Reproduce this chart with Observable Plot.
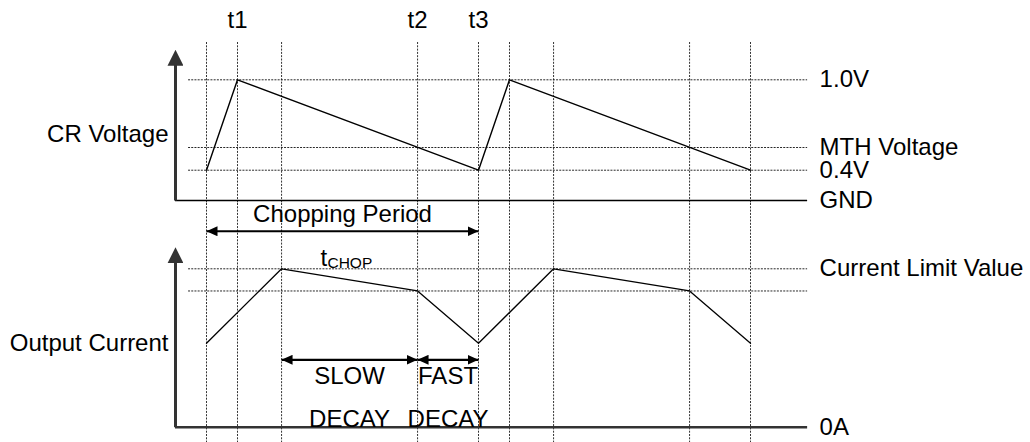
<!DOCTYPE html>
<html>
<head>
<meta charset="utf-8">
<script src="https://cdn.jsdelivr.net/npm/d3@7"></script>
<script src="https://cdn.jsdelivr.net/npm/@observablehq/plot@0.6"></script>
<style>
  html, body { margin: 0; padding: 0; background: #fff; }
  #chart svg { display: block; overflow: visible; }
</style>
</head>
<body>
<div id="chart"></div>
<script>
// ---------- data (time in chopping periods) ----------
const eventTimes = [0, 0.114, 0.276, 0.776, 1, 1.114, 1.276, 1.776, 2];
const tickTimes = [0.114, 0.776, 1];
const tickLabels = ["t1", "t2", "t3"];

// CR voltage waveform (V)
const crTimes = [0, 0.114, 1, 1.114, 2];
const crVolts = [0.4, 1.0, 0.4, 1.0, 0.4];
const vLevels = [1.0, 0.55, 0.4, 0];
const vLabels = ["1.0V", "MTH Voltage", "0.4V", "GND"];

// Output current waveform (relative to current limit)
const curTimes = [0, 0.276, 0.776, 1, 1.276, 1.776, 2];
const curValues = [0.53, 1.0, 0.86, 0.53, 1.0, 0.86, 0.53];
const iLevels = [1.0, 0.86, 0];
const iLabels = ["Current Limit Value", "", "0A"];

// decay phases
const phaseStart = [0.276, 0.776];
const phaseEnd = [0.776, 1];
const phaseWord1 = ["SLOW", "FAST"];
const phaseWord2 = ["DECAY", "DECAY"];

// ---------- layout helpers ----------
const W = 1030, H1 = 203, H2 = 239;
const tAxis = -0.114, tLeft = -0.066, tRight = 2.21;
const xScale = {axis: null, domain: [0, 2], range: [206, 750]};
const FONT = "'Liberation Sans', Arial, Helvetica, sans-serif";
const FS = 24;
// schematic (non-proportional) voltage axis: volts -> drawing level
const voltToLevel = d3.scaleLinear().domain([0, 0.4, 0.55, 1.0]).range([0, 0.251, 0.439, 1]);

function triMarker(len, wid, over = 0) {
  return (color) => {
    const m = d3.create("svg:marker")
      .attr("viewBox", `0 ${-wid / 2} ${len} ${wid}`)
      .attr("refX", len - over).attr("refY", 0)
      .attr("markerWidth", len).attr("markerHeight", wid)
      .attr("markerUnits", "userSpaceOnUse")
      .attr("orient", "auto-start-reverse");
    m.append("path").attr("d", `M0,${-wid / 2}L${len},0L0,${wid / 2}Z`)
      .attr("fill", color).attr("stroke", "none");
    return m.node();
  };
}

const crData = crTimes.map((t, i) => ({t, v: crVolts[i]}));
const curData = curTimes.map((t, i) => ({t, i: curValues[i]}));
const vLevelData = vLevels.map((v, k) => ({v, label: vLabels[k]}));
const iLevelData = iLevels.map((v, k) => ({v, label: iLabels[k]}));
const tickData = tickTimes.map((t, k) => ({t, label: tickLabels[k]}));
const phases = phaseStart.map((s, k) => ({s, e: phaseEnd[k], mid: (s + phaseEnd[k]) / 2, w1: phaseWord1[k], w2: phaseWord2[k]}));

const vertDash = {stroke: "#333", strokeWidth: 1, strokeDasharray: "2,1.3"};
const horDash = {stroke: "#111", strokeWidth: 0.9, strokeDasharray: "2,1.2"};

// ---------- top panel: CR voltage ----------
const voltagePanel = Plot.plot({
  width: W, height: H1,
  marginTop: 42, marginBottom: 0, marginLeft: 0, marginRight: 0,
  style: {fontFamily: FONT, fontSize: FS + "px", background: "transparent", color: "#000"},
  x: xScale,
  y: {axis: null, transform: voltToLevel, domain: [0, 1], range: [200, 79.3]},
  marks: [
    Plot.ruleX(eventTimes, vertDash),
    Plot.ruleY(vLevels.filter(v => v > 0), {x1: tLeft, x2: tRight, ...horDash}),
    Plot.ruleY([0], {x1: tAxis, x2: tRight, stroke: "#000", strokeWidth: 1.3}),
    Plot.link([{x: tAxis, y1: 0, y2: 1.173}], {x1: "x", x2: "x", y1: "y1", y2: "y2",
      stroke: "#333", strokeWidth: 3, markerEnd: triMarker(16, 16, 4)}),
    Plot.line(crData, {x: "t", y: "v", stroke: "#000", strokeWidth: 1.4}),
    Plot.text(vLevelData, {x: tRight, y: "v", text: "label", textAnchor: "start", dx: 12, fontSize: FS, fill: "#000"}),
    Plot.text(tickData, {x: "t", text: "label", frameAnchor: "top", lineAnchor: "middle", dy: -22, fontSize: FS, fill: "#000"}),
    Plot.text(["CR Voltage"], {x: tAxis, y: 0.64, text: d => d, textAnchor: "end", dx: -7, fontSize: FS, fill: "#000"})
  ]
});

// ---------- bottom panel: output current ----------
const currentPanel = Plot.plot({
  width: W, height: H2,
  marginTop: 0, marginBottom: 0, marginLeft: 0, marginRight: 0,
  style: {fontFamily: FONT, fontSize: FS + "px", background: "transparent", color: "#000"},
  x: xScale,
  y: {axis: null, domain: [0, 1], range: [223.7, 65.3]},
  marks: [
    Plot.ruleX(eventTimes, vertDash),
    Plot.ruleY(iLevels.filter(v => v > 0), {x1: tLeft, x2: tRight, ...horDash}),
    Plot.ruleY([0], {x1: tAxis, x2: tRight, stroke: "#333", strokeWidth: 2.6}),
    Plot.link([{x: tAxis, y1: 0, y2: 1.111}], {x1: "x", x2: "x", y1: "y1", y2: "y2",
      stroke: "#333", strokeWidth: 3, markerEnd: triMarker(16, 16, 4)}),
    Plot.line(curData, {x: "t", y: "i", stroke: "#000", strokeWidth: 1.3}),
    // chopping period
    Plot.link([{s: 0, e: 1, y: 1.237}], {x1: "s", x2: "e", y1: "y", y2: "y",
      stroke: "#000", strokeWidth: 2.2, markerStart: triMarker(11, 10), markerEnd: triMarker(11, 10)}),
    Plot.text(["Chopping Period"], {x: 0.5, y: 1.346, text: d => d, fontSize: FS, fill: "#000"}),
    Plot.text(["t"], {x: 0.419, y: 1.065, text: d => d, textAnchor: "start", fontSize: FS, fill: "#000"}),
    Plot.text(["CHOP"], {x: 0.419, y: 1.065, text: d => d, textAnchor: "start", dx: 7, dy: 5, fontSize: 15.5, fill: "#000"}),
    // decay phases
    Plot.link(phases, {x1: "s", x2: "e", y1: () => 0.4255, y2: () => 0.4255,
      stroke: "#000", strokeWidth: 2.2, markerStart: triMarker(11, 10), markerEnd: triMarker(11, 10)}),
    Plot.text(phases, {x: "mid", y: () => 0.322, text: "w1", fontSize: FS, fill: "#000"}),
    Plot.text(phases, {x: "mid", y: () => 0.049, text: "w2", fontSize: FS, fill: "#000"}),
    Plot.text(iLevelData, {x: tRight, y: "v", text: "label", textAnchor: "start", dx: 12, fontSize: FS, fill: "#000"}),
    Plot.text(["Output Current"], {x: tAxis, y: 0.53, text: d => d, textAnchor: "end", dx: -7, fontSize: FS, fill: "#000"})
  ]
});

document.getElementById("chart").append(voltagePanel, currentPanel);
</script>
</body>
</html>
